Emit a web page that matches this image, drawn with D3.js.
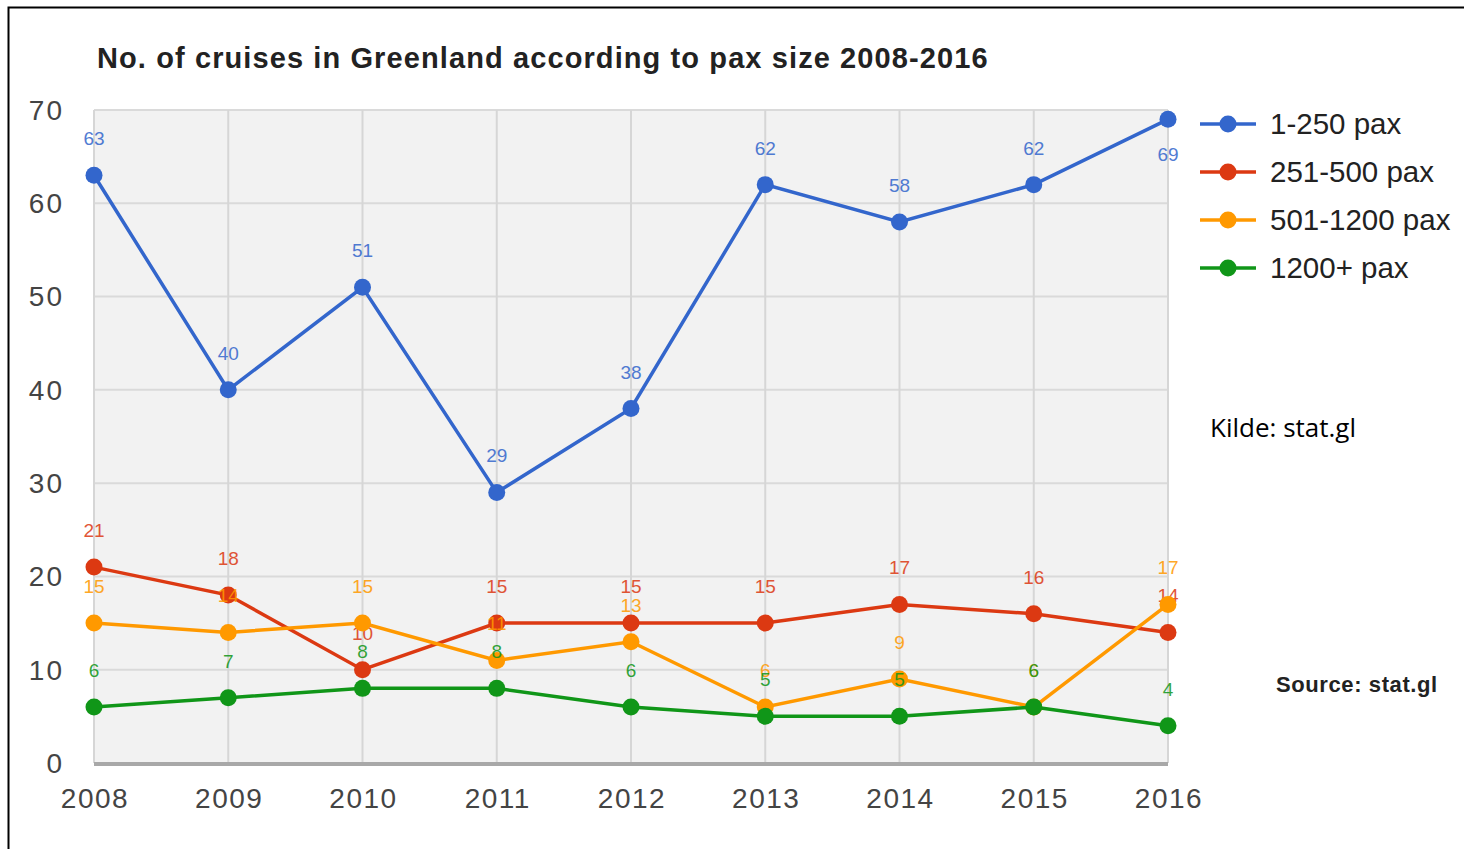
<!DOCTYPE html>
<html lang="en">
<head>
<meta charset="UTF-8">
<title>No. of cruises in Greenland</title>
<script src="https://cdn.jsdelivr.net/npm/d3@7"></script>
<style>
	body { margin: 0; background: #fff; }
	svg { display: block; font-family: "Liberation Sans", Arial, sans-serif; }
</style>
</head>
<body>
<svg width="1464" height="849"></svg>
<script>
	// data
	const years = [2008, 2009, 2010, 2011, 2012, 2013, 2014, 2015, 2016];
	const seriesNames = ["1-250 pax", "251-500 pax", "501-1200 pax", "1200+ pax"];
	const seriesColors = ["#3366cc", "#dc3912", "#ff9900", "#109618"];
	const pax1to250 = [63, 40, 51, 29, 38, 62, 58, 62, 69];
	const pax251to500 = [21, 18, 10, 15, 15, 15, 17, 16, 14];
	const pax501to1200 = [15, 14, 15, 11, 13, 6, 9, 6, 17];
	const pax1200plus = [6, 7, 8, 8, 6, 5, 5, 6, 4];
	const yTicks = [0, 10, 20, 30, 40, 50, 60, 70];

	const series = [pax1to250, pax251to500, pax501to1200, pax1200plus].map((vals, i) => ({
		name: seriesNames[i],
		color: seriesColors[i],
		points: vals.map((v, j) => ({ year: years[j], value: v }))
	}));

	const svg = d3.select("svg");

	// frame (left + top only are visible)
	svg.append("path")
		.attr("d", "M8.5,849 V7.5 H1464")
		.attr("fill", "none")
		.attr("stroke", "#000")
		.attr("stroke-width", 2);

	const x = d3.scaleLinear().domain([2008, 2016]).range([94, 1168]);
	const y = d3.scaleLinear().domain([0, 70]).range([763, 110]);

	// plot background
	svg.append("rect")
		.attr("x", x(2008)).attr("y", y(70))
		.attr("width", x(2016) - x(2008)).attr("height", y(0) - y(70))
		.attr("fill", "#f2f2f2");

	// horizontal grid
	svg.append("g").selectAll("line").data(yTicks.filter(d => d > 0)).join("line")
		.attr("x1", x(2008)).attr("x2", x(2016))
		.attr("y1", d => y(d)).attr("y2", d => y(d))
		.attr("stroke", "#dadada").attr("stroke-width", 2);

	// vertical grid
	svg.append("g").selectAll("line").data(years).join("line")
		.attr("x1", d => x(d)).attr("x2", d => x(d))
		.attr("y1", y(70)).attr("y2", y(0))
		.attr("stroke", "#d6d6d6").attr("stroke-width", 2);

	// baseline
	svg.append("line")
		.attr("x1", x(2008)).attr("x2", x(2016))
		.attr("y1", y(0) + 1).attr("y2", y(0) + 1)
		.attr("stroke", "#a8a8a8").attr("stroke-width", 4);

	// y axis labels
	svg.append("g").selectAll("text").data(yTicks).join("text")
		.attr("x", 64).attr("y", d => y(d))
		.attr("dy", "0.35em")
		.attr("text-anchor", "end")
		.attr("font-size", 28)
		.attr("letter-spacing", 2)
		.attr("fill", "#444")
		.text(d => d);

	// x axis labels
	svg.append("g").selectAll("text").data(years).join("text")
		.attr("x", d => x(d) + 1).attr("y", 808)
		.attr("text-anchor", "middle")
		.attr("font-size", 28)
		.attr("letter-spacing", 1.5)
		.attr("fill", "#444")
		.text(d => d);

	// title
	svg.append("text")
		.attr("x", 97).attr("y", 68)
		.attr("font-size", 29)
		.attr("letter-spacing", 1.1)
		.attr("font-weight", "bold")
		.attr("fill", "#222")
		.text("No. of cruises in Greenland according to pax size 2008-2016");

	const line = d3.line().x(d => x(d.year)).y(d => y(d.value));

	const g = svg.append("g").selectAll("g").data(series).join("g");

	g.append("path")
		.attr("d", d => line(d.points))
		.attr("fill", "none")
		.attr("stroke", d => d.color)
		.attr("stroke-width", 3.5);

	g.selectAll("circle").data(d => d.points.map(p => ({ ...p, color: d.color }))).join("circle")
		.attr("cx", d => x(d.year)).attr("cy", d => y(d.value))
		.attr("r", 8.5)
		.attr("fill", d => d.color);

	// value labels (flip below the point when it would leave the plot)
	g.selectAll("text").data(d => d.points.map(p => ({ ...p, color: d.color }))).join("text")
		.attr("x", d => x(d.year))
		.attr("y", d => y(d.value) - 30 < y(70) ? y(d.value) + 42 : y(d.value) - 30)
		.attr("text-anchor", "middle")
		.attr("font-size", 19)
		.attr("fill", d => d.color)
		.attr("opacity", 0.85)
		.text(d => d.value);

	// legend
	const legend = svg.append("g").selectAll("g").data(series).join("g")
		.attr("transform", (d, i) => `translate(1200,${124 + i * 48})`);
	legend.append("line")
		.attr("x1", 0).attr("x2", 56)
		.attr("stroke", d => d.color).attr("stroke-width", 3.5);
	legend.append("circle")
		.attr("cx", 28).attr("r", 8.5)
		.attr("fill", d => d.color);
	legend.append("text")
		.attr("x", 70).attr("dy", "0.35em")
		.attr("font-size", 29.5)
		.attr("fill", "#222")
		.text(d => d.name);

	// source notes
	svg.append("text")
		.attr("x", 1210).attr("y", 437)
		.attr("font-family", "'Open Sans', 'Noto Sans', sans-serif")
		.attr("font-size", 26)
		.attr("fill", "#000")
		.text("Kilde: stat.gl");

	svg.append("text")
		.attr("x", 1276).attr("y", 692)
		.attr("font-size", 22)
		.attr("letter-spacing", 0.6)
		.attr("font-weight", "bold")
		.attr("fill", "#222")
		.text("Source: stat.gl");
</script>
</body>
</html>
